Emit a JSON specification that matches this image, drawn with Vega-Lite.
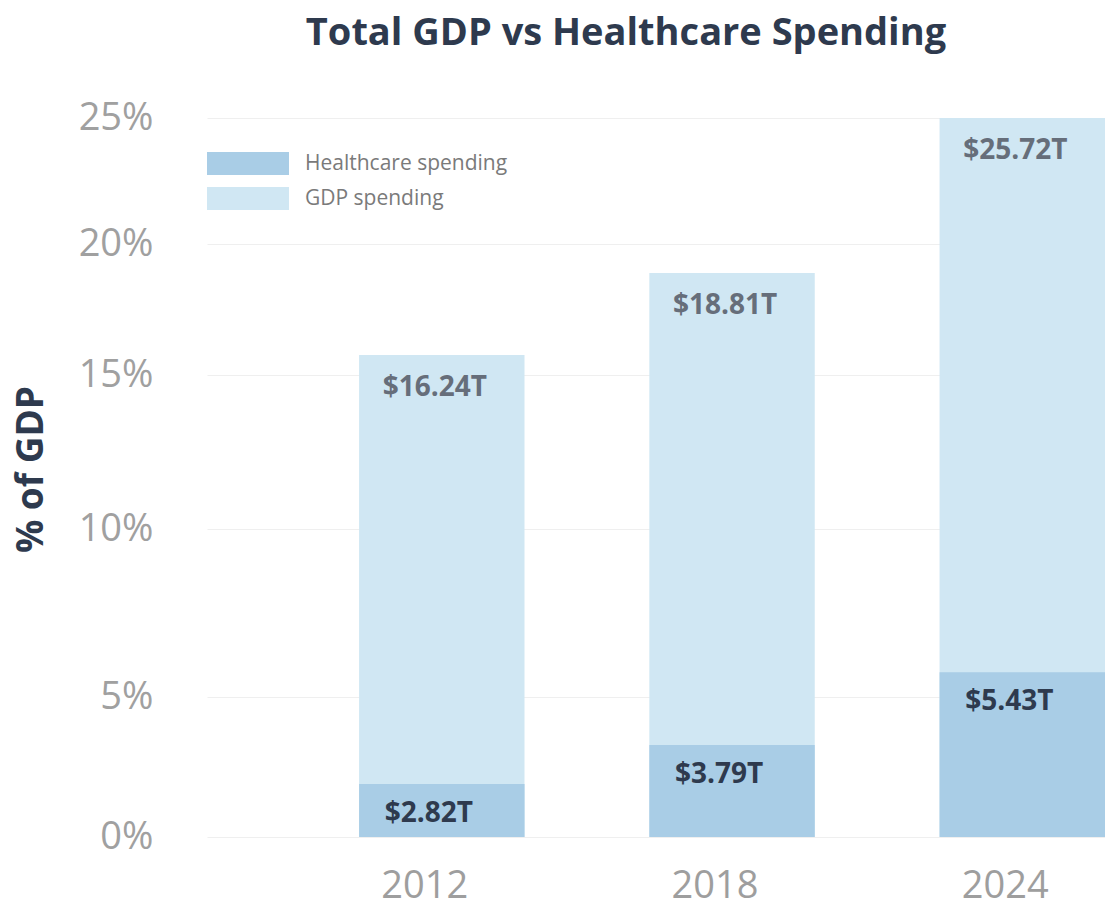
{
  "$schema": "https://vega.github.io/schema/vega-lite/v6.json",
  "autosize": "none",
  "padding": {"left": 207, "top": 118, "right": 0, "bottom": 78},
  "width": 898,
  "height": 719,
  "background": "white",
  "config": {
    "view": {"stroke": null},
    "font": "Open Sans"
  },
  "title": {
    "text": "Total GDP vs Healthcare Spending",
    "font": "Open Sans",
    "fontSize": 38,
    "fontWeight": "bold",
    "color": "#2e3a4e",
    "anchor": "middle",
    "frame": "group",
    "dx": -30,
    "offset": 46
  },
  "data": {
    "values": [
      {"year": "2012", "series": "GDP spending", "value": 15.76, "label": "$16.24T"},
      {"year": "2018", "series": "GDP spending", "value": 18.89, "label": "$18.81T"},
      {"year": "2024", "series": "GDP spending", "value": 25.0, "label": "$25.72T"},
      {"year": "2012", "series": "Healthcare spending", "value": 1.89, "label": "$2.82T"},
      {"year": "2018", "series": "Healthcare spending", "value": 3.29, "label": "$3.79T"},
      {"year": "2024", "series": "Healthcare spending", "value": 5.74, "label": "$5.43T"}
    ]
  },
  "encoding": {
    "x": {
      "field": "year",
      "type": "nominal",
      "sort": null,
      "scale": {"paddingInner": 0.43, "paddingOuter": 0.262, "align": 1},
      "axis": {
        "title": null,
        "domain": false,
        "ticks": false,
        "labelAngle": 0,
        "labelFont": "Open Sans",
        "labelFontSize": 38,
        "labelColor": "#9e9e9e",
        "labelPadding": 30,
        "labelOffset": -17
      }
    },
    "y": {
      "field": "value",
      "type": "quantitative",
      "stack": null,
      "scale": {"domain": [0, 5, 10, 15, 20, 25], "range": [719, 579, 411, 257, 126, 0], "nice": false, "zero": false},
      "axis": {
        "values": [0, 5, 10, 15, 20, 25],
        "labelExpr": "datum.value + '%'",
        "domain": false,
        "ticks": false,
        "grid": true,
        "gridColor": "#efefef",
        "gridWidth": 1,
        "labelFont": "Open Sans",
        "labelFontSize": 38,
        "labelColor": "#a0a0a0",
        "labelPadding": 54,
        "title": "% of GDP",
        "titleFont": "Open Sans",
        "titleFontSize": 37,
        "titleFontWeight": "bold",
        "titleColor": "#2e3a4e",
        "titleAngle": -90,
        "titleAlign": "center",
        "titleBaseline": "middle",
        "titleX": -176,
        "titleY": 351
      }
    }
  },
  "layer": [
    {
      "mark": {"type": "bar"},
      "encoding": {
        "color": {
          "field": "series",
          "type": "nominal",
          "scale": {"domain": ["Healthcare spending", "GDP spending"], "range": ["#a9cde6", "#d0e7f3"]},
          "legend": {
            "title": null,
            "orient": "none",
            "legendX": 29.5,
            "legendY": 34,
            "symbolType": "M-3.565,-1H3.565V1H-3.565Z",
            "symbolSize": 529,
            "symbolStrokeWidth": 0,
            "symbolOpacity": 1,
            "labelFont": "Open Sans",
            "labelFontSize": 21,
            "labelColor": "#7a7a7a",
            "labelOffset": 45.5,
            "labelLimit": 400,
            "rowPadding": 12
          }
        }
      }
    },
    {
      "transform": [{"filter": "datum.series === 'GDP spending'"}],
      "mark": {"type": "text", "font": "Open Sans", "fontWeight": "bold", "fontSize": 28, "color": "#666e7a", "align": "center", "baseline": "alphabetic", "dx": -7, "dy": 41},
      "encoding": {"text": {"field": "label"}}
    },
    {
      "transform": [{"filter": "datum.series === 'Healthcare spending'"}],
      "mark": {"type": "text", "font": "Open Sans", "fontWeight": "bold", "fontSize": 28, "color": "#2e3a4e", "align": "center", "baseline": "alphabetic", "dx": -13, "dy": 38},
      "encoding": {"text": {"field": "label"}}
    }
  ]
}
